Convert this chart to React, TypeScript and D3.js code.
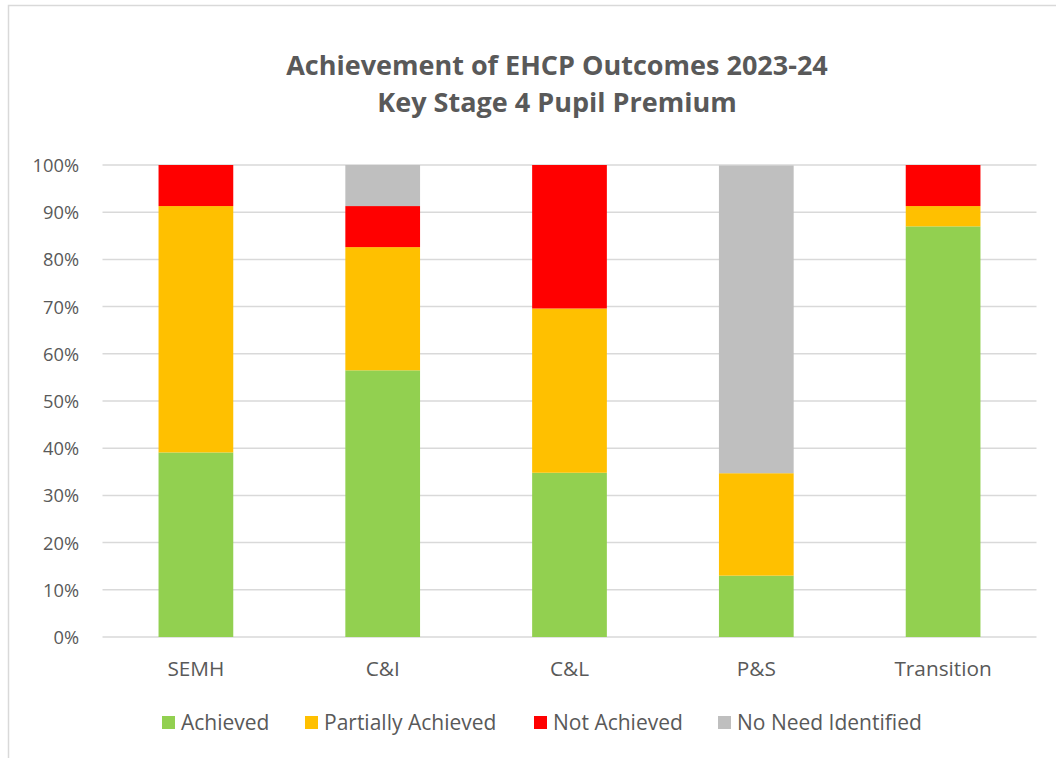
import React from "react";
import * as d3 from "d3";

const categories = ["SEMH", "C&I", "C&L", "P&S", "Transition"];
const seriesNames = ["Achieved", "Partially Achieved", "Not Achieved", "No Need Identified"];
const achieved = [39.1, 56.5, 34.8, 13.0, 87.0];
const partiallyAchieved = [52.2, 26.1, 34.8, 21.7, 4.3];
const notAchieved = [8.7, 8.7, 30.4, 0, 8.7];
const noNeedIdentified = [0, 8.7, 0, 65.2, 0];
const yTicks = [0, 10, 20, 30, 40, 50, 60, 70, 80, 90, 100];
const titleLines = ["Achievement of EHCP Outcomes 2023-24", "Key Stage 4 Pupil Premium"];

const colors = ["#92D050", "#FFC000", "#FF0000", "#BFBFBF"];
const FONT = "'Open Sans', 'Noto Sans', sans-serif";
const TEXT = "#595959";

export default function App() {
  const W = 1056, H = 758;
  const left = 102.5, right = 1036.5, top = 165, bottom = 637;
  const x = d3.scaleBand<string>().domain(categories).range([left, right]).paddingInner(0.6).paddingOuter(0.3);
  const y = d3.scaleLinear().domain([0, 100]).range([bottom, top]);

  const rows = categories.map((c, i) => ({
    cat: c,
    s0: achieved[i], s1: partiallyAchieved[i], s2: notAchieved[i], s3: noNeedIdentified[i],
  }));
  const stack = d3.stack<any>().keys(["s0", "s1", "s2", "s3"]);
  const stacked = stack(rows);

  const legendX = [162, 305, 534, 718];

  return (
    <svg width={W} height={H} style={{ position: "absolute", left: 0, top: 0, fontFamily: FONT }}>
      <rect x={0} y={0} width={W} height={H} fill="#fff" />
      <rect x={8.5} y={5.5} width={1200} height={1000} fill="#fff" stroke="#D9D9D9" strokeWidth={1.5} />
      {titleLines.map((t, i) => (
        <text key={i} x={557} y={75 + i * 37} textAnchor="middle" fontSize={27} fontWeight={700} fill={TEXT}>{t}</text>
      ))}
      {yTicks.map((t) => (
        <g key={t}>
          <line x1={left} x2={right} y1={y(t)} y2={y(t)} stroke="#D9D9D9" strokeWidth={1.5} />
          <text x={79} y={y(t) + 7} textAnchor="end" fontSize={18.3} fill={TEXT}>{t}%</text>
        </g>
      ))}
      {stacked.map((layer, li) => (
        <g key={li} fill={colors[li]}>
          {layer.map((d, i) => (d[1] - d[0] > 0 ? (
            <rect key={i} x={x(categories[i])} width={x.bandwidth()} y={y(d[1])} height={y(d[0]) - y(d[1])} />
          ) : null))}
        </g>
      ))}
      {categories.map((c) => (
        <text key={c} x={(x(c) as number) + x.bandwidth() / 2} y={676} textAnchor="middle" fontSize={20.8} fill={TEXT}>{c}</text>
      ))}
      {seriesNames.map((s, i) => (
        <g key={s}>
          <rect x={legendX[i]} y={716} width={13} height={13} fill={colors[i]} />
          <text x={legendX[i] + 19} y={730} fontSize={21} fill={TEXT}>{s}</text>
        </g>
      ))}
    </svg>
  );
}
